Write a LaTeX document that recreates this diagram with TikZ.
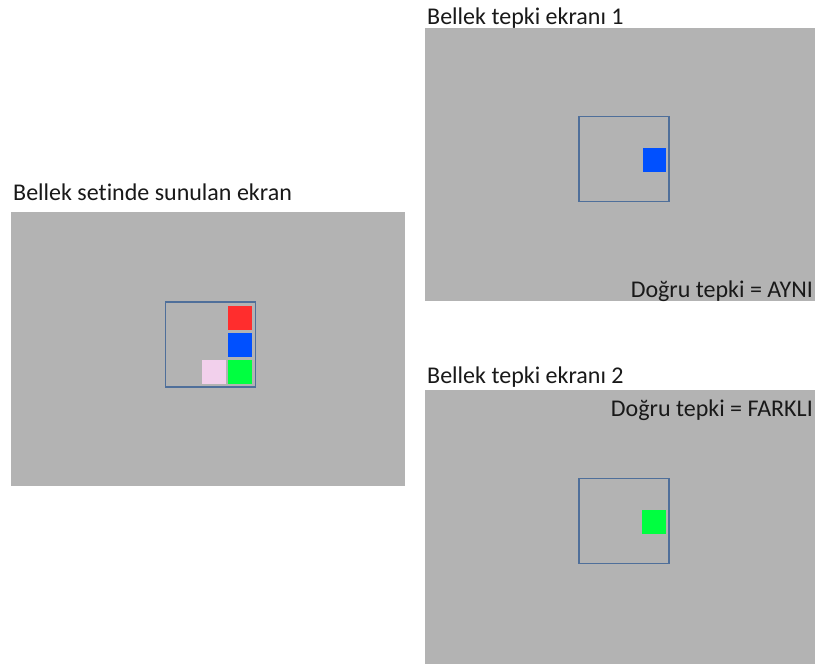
\documentclass[tikz,border=0pt]{standalone}
\usepackage{fontspec}
\setmainfont[Ligatures=NoCommon]{Carlito}
\definecolor{screen}{HTML}{B3B3B3}
\definecolor{frameblue}{HTML}{4F6F9A}
\definecolor{sqred}{HTML}{FF2D2D}
\definecolor{sqblue}{HTML}{0050FF}
\definecolor{sqgreen}{HTML}{00FF40}
\definecolor{sqpink}{HTML}{F2D0EC}
\tikzset{
  screenbox/.style={fill=screen, draw=none, inner sep=0pt, outer sep=0pt, anchor=north west},
  framebox/.style={draw=frameblue, line width=1.4pt, fill=none, inner sep=0pt, outer sep=0pt, anchor=north west, minimum width=90pt, minimum height=85pt},
  cell/.style={inner sep=0pt, outer sep=0pt, anchor=north west, minimum width=24pt, minimum height=24.5pt},
  caption/.style={font=\fontsize{24}{28}\selectfont, inner sep=0pt, text=black!90},
}
\begin{document}
\begin{tikzpicture}[x=1pt,y=-1pt]
\useasboundingbox (0,0) rectangle (818,664);
\fill[white] (0,0) rectangle (818,664);

% memory set screen
\node[screenbox, minimum width=394pt, minimum height=274pt] (set) at (11,212) {};
\node[framebox] (setframe) at (165.5,302) {};
\node[cell, fill=sqred] (red) at (228.3,305.7) {};
\node[cell, fill=sqblue] (blue) at (228.3,332.8) {};
\node[cell, fill=sqgreen] (green) at (228.3,359.9) {};
\node[cell, fill=sqpink] (pink) at (201.8,359.9) {};
\node[caption, anchor=base west] (setlabel) at (13,200) {Bellek setinde sunulan ekran};

% response screen 1
\node[screenbox, minimum width=390pt, minimum height=273pt] (resp1) at (425,28) {};
\node[framebox] (frame1) at (579,116.5) {};
\node[cell, fill=sqblue, minimum height=24pt, minimum width=23.5pt] (blue1) at (642.7,147.5) {};
\node[caption, anchor=base west] (label1) at (427,24) {Bellek tepki ekranı 1};
\node[caption, anchor=base east] (answer1) at (813,297) {Doğru tepki = AYNI};

% response screen 2
\node[screenbox, minimum width=390pt, minimum height=274pt] (resp2) at (425,390) {};
\node[framebox] (frame2) at (579,478.5) {};
\node[cell, fill=sqgreen, minimum height=24.5pt, minimum width=24pt] (green2) at (642.3,509.5) {};
\node[caption, anchor=base west] (label2) at (427,383) {Bellek tepki ekranı 2};
\node[caption, anchor=base east] (answer2) at (813,416.5) {Doğru tepki = FARKLI};
\end{tikzpicture}
\end{document}
